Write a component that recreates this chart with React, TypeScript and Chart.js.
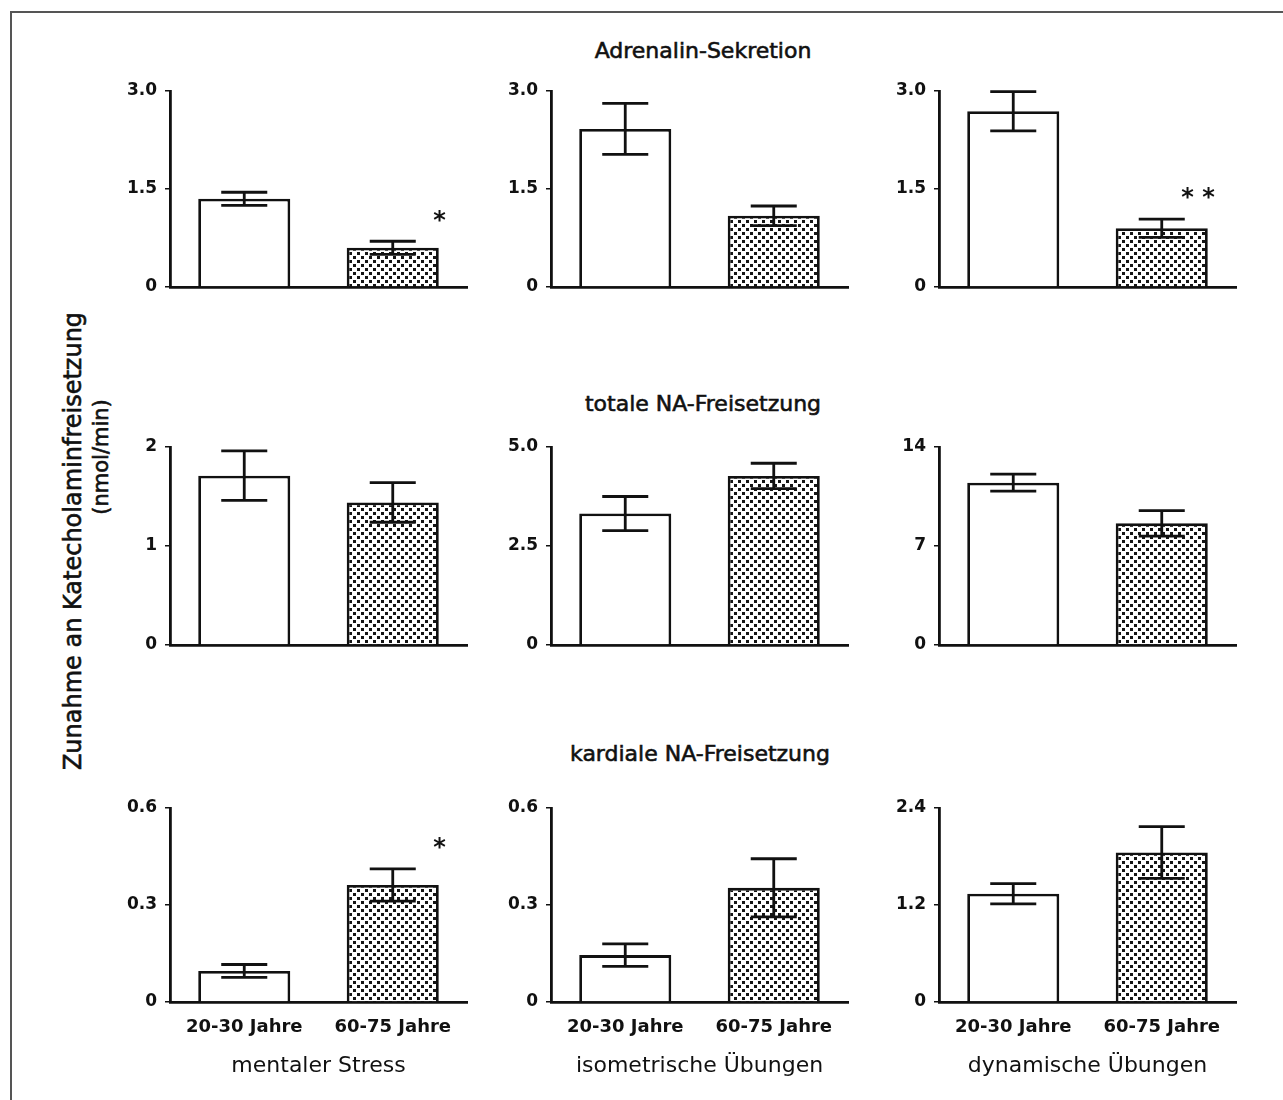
import React, { useEffect, useRef } from "react";
import { Chart, registerables } from "chart.js";
Chart.register(...registerables);

// ---------- data ----------
const ageGroups = ["20-30 Jahre", "60-75 Jahre"];
const conditions = ["mentaler Stress", "isometrische Übungen", "dynamische Übungen"];
const rowTitles = ["Adrenalin-Sekretion", "totale NA-Freisetzung", "kardiale NA-Freisetzung"];
const yAxisLabel = "Zunahme an Katecholaminfreisetzung";
const yAxisUnit = "(nmol/min)";

const adrenalinMean = [[1.35, 0.6], [2.42, 1.09], [2.69, 0.9]];
const adrenalinErr = [[0.1, 0.1], [0.39, 0.15], [0.3, 0.14]];
const adrenalinSig = [["", "*"], ["", ""], ["", "* *"]];
const adrenalinTicks = [[0, 1.5, 3], [0, 1.5, 3], [0, 1.5, 3]];
const adrenalinTickLabels = [["0", "1.5", "3.0"], ["0", "1.5", "3.0"], ["0", "1.5", "3.0"]];

const totalNAMean = [[1.71, 1.44], [3.32, 4.27], [11.48, 8.6]];
const totalNAErr = [[0.25, 0.2], [0.43, 0.32], [0.6, 0.9]];
const totalNASig = [["", ""], ["", ""], ["", ""]];
const totalNATicks = [[0, 1, 2], [0, 2.5, 5], [0, 7, 14]];
const totalNATickLabels = [["0", "1", "2"], ["0", "2.5", "5.0"], ["0", "7", "14"]];

const cardiacNAMean = [[0.096, 0.362], [0.145, 0.353], [1.34, 1.85]];
const cardiacNAErr = [[0.02, 0.05], [0.035, 0.09], [0.125, 0.32]];
const cardiacNASig = [["", "*"], ["", ""], ["", ""]];
const cardiacNATicks = [[0, 0.3, 0.6], [0, 0.3, 0.6], [0, 1.2, 2.4]];
const cardiacNATickLabels = [["0", "0.3", "0.6"], ["0", "0.3", "0.6"], ["0", "1.2", "2.4"]];

const rows = [
  { mean: adrenalinMean, err: adrenalinErr, sig: adrenalinSig, ticks: adrenalinTicks, labels: adrenalinTickLabels },
  { mean: totalNAMean, err: totalNAErr, sig: totalNASig, ticks: totalNATicks, labels: totalNATickLabels },
  { mean: cardiacNAMean, err: cardiacNAErr, sig: cardiacNASig, ticks: cardiacNATicks, labels: cardiacNATickLabels },
];

// ---------- layout ----------
const FONT = "DejaVu Sans";
const INK = "#111";
const COL_AXIS_X = [170, 551, 939];
const AREA_W = 297;
const ROW_TOP = [91, 447, 808];
const AREA_H = [196, 198, 194];
const Y_W = 70;
const PAD_T = 40;
const PAD_R = 8;
const X_H_TOP = 24;
const X_H_BOTTOM = 77;

function makeDots(ctx: CanvasRenderingContext2D) {
  const c = document.createElement("canvas");
  c.width = 8;
  c.height = 8;
  const g = c.getContext("2d")!;
  g.fillStyle = "#fff";
  g.fillRect(0, 0, 8, 8);
  g.fillStyle = "#151515";
  g.fillRect(1, 1, 3, 3);
  g.fillRect(5, 5, 3, 3);
  return ctx.createPattern(c, "repeat");
}

function Panel({ r, c }: { r: number; c: number }) {
  const ref = useRef<HTMLCanvasElement>(null);
  const isBottom = r === 2;
  const xH = isBottom ? X_H_BOTTOM : X_H_TOP;
  const W = Y_W + AREA_W + PAD_R;
  const H = PAD_T + AREA_H[r] + xH;
  const left = COL_AXIS_X[c] - Y_W;
  const top = ROW_TOP[r] - PAD_T;

  useEffect(() => {
    const canvas = ref.current!;
    const ctx = canvas.getContext("2d")!;
    const mean = rows[r].mean[c];
    const err = rows[r].err[c];
    const sig = rows[r].sig[c];
    const ticks = rows[r].ticks[c];
    const labels = rows[r].labels[c];
    const pattern = makeDots(ctx);

    const errorPlugin = {
      id: "errbars",
      afterDatasetsDraw(chart: any) {
        const g = chart.ctx;
        const y = chart.scales.y;
        const meta = chart.getDatasetMeta(0);
        meta.data.forEach((el: any, i: number) => {
          const yt = y.getPixelForValue(mean[i] + err[i]);
          const yb = y.getPixelForValue(mean[i] - err[i]);
          const half = el.width * 0.25;
          g.save();
          g.strokeStyle = INK;
          g.lineWidth = 2.8;
          g.beginPath();
          g.moveTo(el.x, yt);
          g.lineTo(el.x, yb);
          g.moveTo(el.x - half, yt);
          g.lineTo(el.x + half, yt);
          g.moveTo(el.x - half, yb);
          g.lineTo(el.x + half, yb);
          g.stroke();
          if (sig[i]) {
            g.fillStyle = INK;
            g.font = `bold 24px "${FONT}"`;
            g.textAlign = "right";
            g.textBaseline = "middle";
            g.fillText(sig[i], el.x + el.width / 2 + 7, yt - 20);
          }
          g.restore();
        });
      },
    };

    const chart = new Chart(canvas, {
      type: "bar",
      data: {
        labels: ageGroups,
        datasets: [
          {
            data: mean,
            backgroundColor: ["#ffffff", pattern as any],
            borderColor: INK,
            borderWidth: 2.8,
            borderSkipped: "bottom",
            barPercentage: 0.62,
            categoryPercentage: 1,
          },
        ],
      },
      options: {
        responsive: false,
        animation: false,
        devicePixelRatio: 1,
        layout: { padding: { top: PAD_T, right: PAD_R, left: 0, bottom: 0 } },
        plugins: { legend: { display: false }, tooltip: { enabled: false }, title: { display: false } },
        scales: {
          x: {
            grid: { display: false, drawTicks: false },
            border: { display: true, color: INK, width: 2.8 },
            ticks: { display: isBottom, color: INK, font: { family: FONT, size: 18, weight: "bold" }, padding: 15 },
            title: { display: isBottom, text: conditions[c], color: INK, font: { family: FONT, size: 22 }, padding: 0 },
            afterFit: (s: any) => {
              s.height = xH;
            },
          },
          y: {
            min: ticks[0],
            max: ticks[ticks.length - 1],
            grid: { display: true, drawOnChartArea: false, drawTicks: true, tickLength: 5, color: INK, lineWidth: 1.5 },
            border: { display: true, color: INK, width: 2.8 },
            ticks: {
              color: INK,
              font: { family: FONT, size: 17, weight: "bold" },
              padding: 8,
              callback: (_v: any, i: number) => labels[i],
            },
            afterBuildTicks: (s: any) => {
              s.ticks = ticks.map((v) => ({ value: v }));
            },
            afterFit: (s: any) => {
              s.width = Y_W;
            },
          },
        },
      },
      plugins: [errorPlugin],
    } as any);
    return () => chart.destroy();
  }, [r, c]);

  return (
    <canvas
      ref={ref}
      width={W}
      height={H}
      style={{ position: "absolute", left, top, width: W, height: H }}
    />
  );
}

const titleCenters = [
  { x: 703, y: 50 },
  { x: 703, y: 403 },
  { x: 700, y: 753 },
];

const heavy = { WebkitTextStroke: "0.6px #111" } as any;

export default function App() {
  return (
    <div
      style={{
        position: "absolute",
        left: 0,
        top: 0,
        width: 1283,
        height: 1100,
        overflow: "hidden",
        background: "#fff",
        fontFamily: FONT,
        color: INK,
      }}
    >
      <div
        style={{
          position: "absolute",
          left: 10,
          top: 11,
          width: 1300,
          height: 1200,
          borderTop: "2px solid #555",
          borderLeft: "2px solid #555",
        }}
      />
      {rowTitles.map((t, i) => (
        <div
          key={t}
          style={{
            position: "absolute",
            left: titleCenters[i].x,
            top: titleCenters[i].y,
            transform: "translate(-50%, -50%)",
            fontSize: 22,
            whiteSpace: "nowrap",
            ...heavy,
          }}
        >
          {t}
        </div>
      ))}
      <div
        style={{
          position: "absolute",
          left: 73,
          top: 541,
          transform: "translate(-50%, -50%) rotate(-90deg)",
          fontSize: 24,
          whiteSpace: "nowrap",
          ...heavy,
        }}
      >
        {yAxisLabel}
      </div>
      <div
        style={{
          position: "absolute",
          left: 101,
          top: 457,
          transform: "translate(-50%, -50%) rotate(-90deg)",
          fontSize: 21,
          whiteSpace: "nowrap",
          ...heavy,
        }}
      >
        {yAxisUnit}
      </div>
      {[0, 1, 2].map((r) =>
        [0, 1, 2].map((c) => <Panel key={`${r}-${c}`} r={r} c={c} />)
      )}
    </div>
  );
}
